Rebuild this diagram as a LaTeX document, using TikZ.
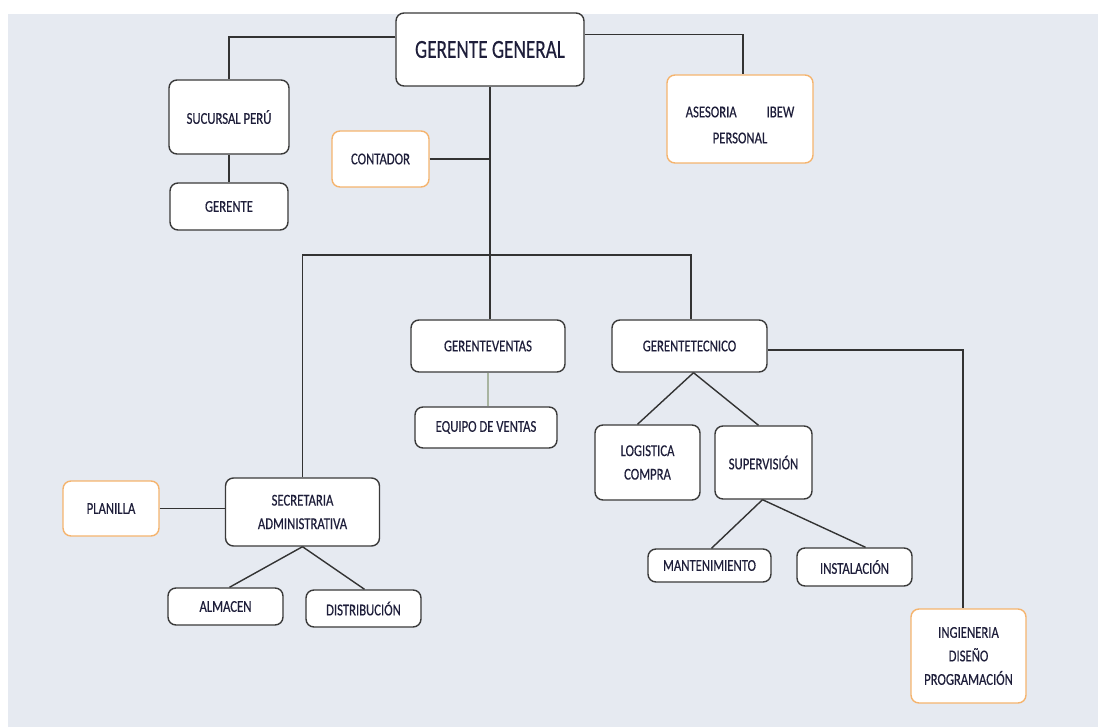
\documentclass[tikz,border=0pt]{standalone}
\usepackage{fontspec}
\setmainfont{Carlito}
\newfontfamily\condfont[FakeStretch=0.77,FakeBold=0.4]{Carlito}
\newfontfamily\titlefont[FakeStretch=0.74,FakeBold=0.3]{Carlito}
\definecolor{bgc}{HTML}{E6EAF1}
\definecolor{linec}{HTML}{333333}
\definecolor{boxc}{HTML}{3A3A3A}
\definecolor{orc}{HTML}{F5B46E}
\definecolor{txtc}{HTML}{1E1E3A}
\definecolor{grn}{HTML}{A8B4A0}
\begin{document}
\begin{tikzpicture}[x=1pt,y=-1pt,
  box/.style={draw=boxc,line width=1.4pt,fill=white,rounded corners=8pt,
    inner sep=0pt,align=center,text=txtc,font=\condfont\fontsize{16.5}{23.5}\selectfont},
  obox/.style={box,draw=orc},
  conn/.style={draw=linec,line width=1.4pt}]
\useasboundingbox (0,0) rectangle (1098,727);
\fill[white] (0,0) rectangle (1098,727);
\fill[bgc] (8,14) rectangle (1098,727);
% nodes
\node[box,minimum width=188pt,minimum height=73pt,font=\titlefont\fontsize{26}{30}\selectfont] (gg) at (490,49.5) {GERENTE GENERAL};
\node[box,minimum width=120pt,minimum height=74pt] (suc) at (229,117) {SUCURSAL PERÚ};
\node[box,minimum width=118pt,minimum height=47pt] (ger) at (229,206.5) {GERENTE};
\node[obox,minimum width=97pt,minimum height=56pt] (cont) at (380.5,159) {CONTADOR};
\node[obox,minimum width=146pt,minimum height=88pt] (ase) at (740,119) {};
\node[box,draw=none,fill=none,rounded corners=0pt,font=\condfont\fontsize{16.5}{26}\selectfont] (asetxt) at (740,125) {ASESORIA\hspace{30pt}IBEW\\PERSONAL};
\node[box,minimum width=154pt,minimum height=52pt] (gv) at (488,346) {GERENTEVENTAS};
\node[box,minimum width=142pt,minimum height=41pt] (eq) at (486,427.5) {EQUIPO DE VENTAS};
\node[box,minimum width=155pt,minimum height=52pt] (gt) at (689.5,346) {GERENTETECNICO};
\node[box,minimum width=105pt,minimum height=75pt] (log) at (647.5,462.5) {LOGISTICA\\COMPRA};
\node[box,minimum width=97pt,minimum height=73pt] (sup) at (763.5,462.5) {SUPERVISIÓN};
\node[box,minimum width=123pt,minimum height=33pt] (man) at (709.5,565.5) {MANTENIMIENTO};
\node[box,minimum width=115pt,minimum height=38pt] (ins) at (854.5,567) {INSTALACIÓN};
\node[obox,minimum width=115pt,minimum height=94pt] (ing) at (968.5,656) {INGIENERIA\\DISEÑO\\PROGRAMACIÓN};
\node[box,minimum width=154pt,minimum height=68pt] (sec) at (302.5,512) {SECRETARIA\\ADMINISTRATIVA};
\node[obox,minimum width=96pt,minimum height=55pt] (pla) at (111,508.5) {PLANILLA};
\node[box,minimum width=115pt,minimum height=37pt] (alm) at (225.5,606.5) {ALMACEN};
\node[box,minimum width=115pt,minimum height=37pt] (dis) at (363.5,608.5) {DISTRIBUCIÓN};
% coordinates
\coordinate (busL) at (302.5,255);
\coordinate (busR) at (691,255);
\coordinate (ingc) at (963,350);
% connectors
\draw[conn] ([yshift=12.5pt]gg.west) -| (suc.north);
\draw[conn] (suc.south) -- (ger.north);
\draw[conn] ([yshift=15pt]gg.east) -| ([xshift=3pt]ase.north);
\draw[conn] (gg.south) -- (gg.south |- gv.north);
\draw[conn] (cont.east) -- ([xshift=1pt]cont.east -| gg.south);
\draw[conn] (sec.north) -- (busL) -- (busR) -- (busR |- gt.north);
\draw[draw=grn,line width=1.4pt] (gv.south) -- (gv.south |- eq.north);
\draw[conn] ([xshift=4pt]gt.south) -- ([xshift=-10pt]log.north);
\draw[conn] ([xshift=4pt]gt.south) -- ([xshift=-5pt]sup.north);
\draw[conn] ([xshift=-1pt]sup.south) -- ([xshift=2pt]man.north);
\draw[conn] ([xshift=-1pt]sup.south) -- ([xshift=11pt]ins.north);
\draw[conn] (gt.east |- ingc) -- (ingc) -- (ingc |- ing.north);
\draw[conn] (pla.east) -- (sec.west |- pla.east);
\draw[conn] (sec.south) -- ([xshift=4pt]alm.north);
\draw[conn] (sec.south) -- ([xshift=1pt]dis.north);
\end{tikzpicture}
\end{document}
